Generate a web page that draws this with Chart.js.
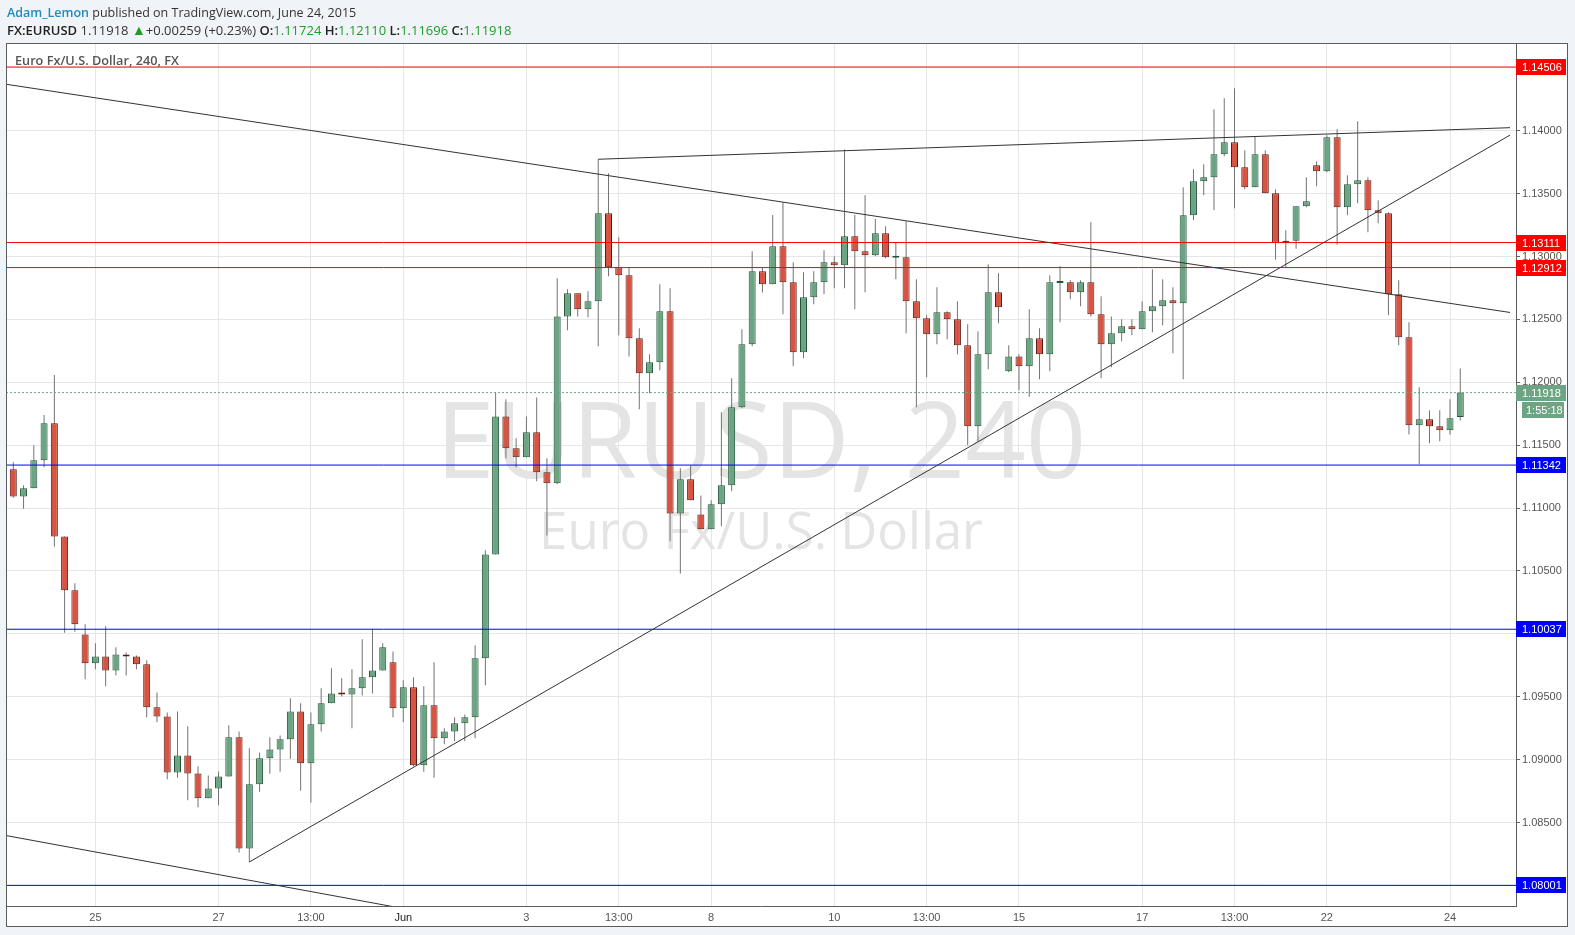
<!doctype html>

<html lang="en">
<head>
	<meta charset="utf-8">
	<title>EURUSD, 240</title>
	<style>
		body { margin: 0; background: #f0f3f7; font-family: "Open Sans", "Liberation Sans", sans-serif; }
		#wrap { position: relative; width: 1575px; height: 935px; }
		#myChart { position: absolute; left: 0; top: 0; }
		.hdr { position: absolute; left: 7px; font-size: 13px; line-height: 16px; color: #333; white-space: nowrap; }
		.hdr b { font-weight: 600; color: #222; }
		.g { color: #1c9e25; }
		.user { color: #1e8bc3; font-weight: 600; }
		#panelTitle { position: absolute; left: 15px; top: 52px; font-size: 12.7px; line-height: 16px; font-weight: 600; color: #555; }
	</style>
</head>

<body>
	<div id="wrap">
		<canvas id="myChart" width="1575" height="935"></canvas>
		<div class="hdr" style="top:5px; font-size:12.5px"><span class="user">Adam_Lemon</span> published on TradingView.com, June 24, 2015</div>
		<div class="hdr" style="top:22px"><b>FX:EURUSD</b> 1.11918 <span class="g" style="font-size:14px">&#9650;</span>+0.00259 (+0.23%) <b>O:</b><span class="g">1.11724</span> <b>H:</b><span class="g">1.12110</span> <b>L:</b><span class="g">1.11696</span> <b>C:</b><span class="g">1.11918</span></div>
		<div id="panelTitle">Euro Fx/U.S. Dollar, 240, FX</div>
	</div>

	<script src="https://cdn.jsdelivr.net/npm/chart.js@4.4.0/dist/chart.umd.min.js"></script>

	<script>
		// 4h candles, index 0 = first bar on the left
		var opens = [
			1.11308, 1.11093, 1.11157, 1.11380, 1.11674, 1.10775, 1.10346, 1.09996, 1.09766, 1.09821,
			1.09710, 1.09837, 1.09821, 1.09758, 1.09416, 1.09344, 1.08899, 1.09034, 1.08891, 1.08693,
			1.08772, 1.08867, 1.09178, 1.08295, 1.08804, 1.09011, 1.09082, 1.09162, 1.09384, 1.08971,
			1.09281, 1.09448, 1.09527, 1.09519, 1.09567, 1.09655, 1.09710, 1.09774, 1.09408, 1.09575,
			1.08955, 1.09432, 1.09170, 1.09225, 1.09289, 1.09337, 1.09806, 1.10632, 1.11729, 1.11475,
			1.11404, 1.11602, 1.11284, 1.11197, 1.12524, 1.12707, 1.12580, 1.12644, 1.13343, 1.12914,
			1.12850, 1.12350, 1.12071, 1.12159, 1.12564, 1.10958, 1.11229, 1.10950, 1.10831, 1.11030,
			1.11181, 1.11801, 1.12302, 1.12882, 1.12779, 1.13081, 1.12795, 1.12238, 1.12676, 1.12795,
			1.12954, 1.12930, 1.13160, 1.13041, 1.13009, 1.13184, 1.12990, 1.12994, 1.12644, 1.12509,
			1.12381, 1.12556, 1.12501, 1.12294, 1.11650, 1.12222, 1.12715, 1.12087, 1.12206, 1.12127,
			1.12350, 1.12222, 1.12790, 1.12795, 1.12715, 1.12795, 1.12540, 1.12302, 1.12389, 1.12445,
			1.12421, 1.12564, 1.12604, 1.12652, 1.12628, 1.13327, 1.13598, 1.13630, 1.13812, 1.13908,
			1.13709, 1.13550, 1.13812, 1.13502, 1.13110, 1.13126, 1.13399, 1.13725, 1.13677, 1.13947,
			1.13391, 1.13574, 1.13606, 1.13367, 1.13343, 1.12699, 1.12358, 1.11658, 1.11706, 1.11650,
			1.11618, 1.11724
		];
		var highs = [
			1.11364, 1.11181, 1.11499, 1.11740, 1.12058, 1.10775, 1.10402, 1.10076, 1.09925, 1.10060,
			1.09893, 1.09853, 1.09829, 1.09790, 1.09535, 1.09376, 1.09384, 1.09265, 1.08947, 1.08875,
			1.08907, 1.09273, 1.09225, 1.09090, 1.09058, 1.09178, 1.09193, 1.09488, 1.09448, 1.09376,
			1.09567, 1.09726, 1.09647, 1.09718, 1.09957, 1.10036, 1.09925, 1.09861, 1.09631, 1.09655,
			1.09583, 1.09774, 1.09249, 1.09337, 1.09360, 1.09909, 1.10664, 1.11920, 1.11865, 1.11555,
			1.11729, 1.11880, 1.11396, 1.12827, 1.12739, 1.12707, 1.12723, 1.13773, 1.13661, 1.13153,
			1.12914, 1.12429, 1.12222, 1.12779, 1.12747, 1.11316, 1.11340, 1.11101, 1.11062, 1.11761,
			1.12032, 1.12421, 1.13041, 1.12914, 1.13330, 1.13431, 1.12954, 1.12874, 1.12882, 1.13049,
			1.13001, 1.13851, 1.13330, 1.13486, 1.13298, 1.13240, 1.13113, 1.13280, 1.12819, 1.12532,
			1.12755, 1.12564, 1.12644, 1.12461, 1.12405, 1.12938, 1.12866, 1.12294, 1.12222, 1.12580,
			1.12429, 1.12850, 1.12922, 1.12811, 1.12811, 1.13272, 1.12683, 1.12524, 1.12501, 1.12501,
			1.12644, 1.12898, 1.12819, 1.12755, 1.13550, 1.13693, 1.13733, 1.14170, 1.14258, 1.14337,
			1.13844, 1.13955, 1.13844, 1.13534, 1.13208, 1.13399, 1.13630, 1.13757, 1.13963, 1.14011,
			1.13645, 1.14075, 1.13630, 1.13447, 1.13351, 1.12811, 1.12477, 1.11960, 1.11777, 1.11777,
			1.11865, 1.12110
		];
		var lows = [
			1.11083, 1.10995, 1.11157, 1.11324, 1.10693, 1.10010, 1.10018, 1.09639, 1.09718, 1.09583,
			1.09670, 1.09670, 1.09718, 1.09337, 1.09297, 1.08844, 1.08857, 1.08677, 1.08621, 1.08693,
			1.08637, 1.08867, 1.08263, 1.08187, 1.08746, 1.08889, 1.08905, 1.09008, 1.08754, 1.08658,
			1.09225, 1.09448, 1.09503, 1.09249, 1.09511, 1.09527, 1.09710, 1.09337, 1.09297, 1.08947,
			1.08905, 1.08857, 1.09122, 1.09146, 1.09146, 1.09170, 1.09591, 1.10632, 1.11396, 1.11324,
			1.11404, 1.11213, 1.10783, 1.11189, 1.12413, 1.12524, 1.12517, 1.12286, 1.12842, 1.12373,
			1.12206, 1.11785, 1.11912, 1.12095, 1.10736, 1.10481, 1.11062, 1.10831, 1.10831, 1.10855,
			1.11133, 1.11793, 1.12286, 1.12713, 1.12779, 1.12540, 1.12127, 1.12191, 1.12620, 1.12699,
			1.12747, 1.12747, 1.12580, 1.12715, 1.13001, 1.12986, 1.12819, 1.12389, 1.11801, 1.12040,
			1.12302, 1.12342, 1.12222, 1.11499, 1.11531, 1.12103, 1.12469, 1.12079, 1.11936, 1.11886,
			1.12024, 1.12087, 1.12477, 1.12660, 1.12604, 1.12524, 1.12032, 1.12119, 1.12326, 1.12373,
			1.12421, 1.12397, 1.12453, 1.12230, 1.12024, 1.13288, 1.13486, 1.13367, 1.13796, 1.13383,
			1.13534, 1.13550, 1.13502, 1.12975, 1.12911, 1.13062, 1.13391, 1.13558, 1.13669, 1.13094,
			1.13327, 1.13423, 1.13192, 1.13264, 1.12532, 1.12294, 1.11586, 1.11348, 1.11515, 1.11531,
			1.11586, 1.11696
		];
		var closes = [
			1.11093, 1.11157, 1.11380, 1.11674, 1.10775, 1.10346, 1.10076, 1.09766, 1.09821, 1.09710,
			1.09837, 1.09821, 1.09758, 1.09416, 1.09344, 1.08899, 1.09034, 1.08891, 1.08693, 1.08772,
			1.08867, 1.09178, 1.08295, 1.08804, 1.09011, 1.09082, 1.09162, 1.09384, 1.08971, 1.09281,
			1.09448, 1.09527, 1.09519, 1.09567, 1.09655, 1.09710, 1.09893, 1.09408, 1.09575, 1.08955,
			1.09432, 1.09170, 1.09225, 1.09289, 1.09337, 1.09806, 1.10632, 1.11729, 1.11475, 1.11404,
			1.11602, 1.11284, 1.11197, 1.12524, 1.12707, 1.12580, 1.12644, 1.13343, 1.12914, 1.12850,
			1.12350, 1.12071, 1.12159, 1.12564, 1.10958, 1.11229, 1.11062, 1.10831, 1.11030, 1.11181,
			1.11801, 1.12302, 1.12882, 1.12779, 1.13081, 1.12795, 1.12238, 1.12676, 1.12795, 1.12954,
			1.12930, 1.13160, 1.13041, 1.13009, 1.13184, 1.12994, 1.12998, 1.12644, 1.12509, 1.12381,
			1.12556, 1.12501, 1.12294, 1.11650, 1.12222, 1.12715, 1.12596, 1.12206, 1.12127, 1.12350,
			1.12222, 1.12795, 1.12800, 1.12715, 1.12795, 1.12540, 1.12302, 1.12389, 1.12445, 1.12421,
			1.12564, 1.12604, 1.12652, 1.12628, 1.13327, 1.13598, 1.13630, 1.13812, 1.13908, 1.13709,
			1.13550, 1.13812, 1.13502, 1.13110, 1.13126, 1.13399, 1.13439, 1.13677, 1.13947, 1.13391,
			1.13574, 1.13606, 1.13367, 1.13343, 1.12699, 1.12358, 1.11658, 1.11706, 1.11650, 1.11618,
			1.11714, 1.11918
		];

		var tickIndex = [8, 20, 29, 38, 50, 59, 68, 80, 89, 98, 110, 119, 128, 140];
		var tickLabels = ["25", "27", "13:00", "Jun", "3", "13:00", "8", "10", "13:00", "15", "17", "13:00", "22", "24"];
		var priceTicks = [1.080, 1.085, 1.090, 1.095, 1.100, 1.105, 1.110, 1.115, 1.120, 1.125, 1.130, 1.135, 1.140, 1.145];

		var levels = [1.14506, 1.13111, 1.12912, 1.11342, 1.10037, 1.08001];
		var levelColors = ["#ff0000", "#ff0000", "#ff0000", "#0000ff", "#0000ff", "#0000ff"];
		var lastPrice = 1.11918;
		var countdown = "1:55:18";

		// hand drawn trend lines: [bar index, price] at each end
		var trendLines = [
			[[-0.61, 1.14368], [145.85, 1.12555]],
			[[57, 1.13773], [145.85, 1.14024]],
			[[23, 1.08187], [145.85, 1.13965]],
			[[-0.64, 1.08396], [40, 1.07787]]
		];

		var xMin = -0.711, xMax = 146.43;
		var yMin = 1.07837, yMax = 1.146971;

		var bodies = [], wicks = [], bodyFill = [], bodyLine = [];
		for (var i = 0; i < opens.length; i++) {
			bodies.push({x: i, y: [opens[i], closes[i]]});
			wicks.push({x: i, y: [lows[i], highs[i]]});
			var up = closes[i] >= opens[i];
			bodyFill.push(up ? "#6ba583" : "#d75442");
			bodyLine.push(up ? "#225437" : "#5b1a13");
		}

		var datasets = [
			{ type: 'bar', data: wicks, backgroundColor: "#737375", borderWidth: 0, barThickness: 1, grouped: false, inflateAmount: 0, order: 3 },
			{ type: 'bar', data: bodies, backgroundColor: bodyFill, borderColor: bodyLine, borderWidth: 1, borderSkipped: false,
			  barThickness: 7, minBarLength: 2, grouped: false, inflateAmount: 0, order: 2 }
		];

		for (var k = 0; k < levels.length; k++) {
			datasets.push({ type: 'line', data: [{x: xMin, y: levels[k]}, {x: xMax, y: levels[k]}],
				borderColor: levelColors[k], borderWidth: 1, pointRadius: 0, clip: 0, order: 1 });
		}
		datasets.push({ type: 'line', data: [{x: xMin, y: lastPrice}, {x: xMax, y: lastPrice}],
			borderColor: "#6ba583", borderWidth: 1, borderDash: [2, 2], pointRadius: 0, clip: 0, order: 1 });

		trendLines.forEach(function(t) {
			datasets.push({ type: 'line', data: [{x: t[0][0], y: t[0][1]}, {x: t[1][0], y: t[1][1]}],
				borderColor: "#333333", borderWidth: 1, pointRadius: 0, clip: 0, order: 0 });
		});

		var panelPlugin = {
			id: 'panel',
			beforeDraw: function(chart) {
				var c = chart.ctx, a = chart.chartArea;
				c.save();
				c.fillStyle = "#ffffff";
				c.fillRect(a.left, a.top, chart.scales.y.right - a.left, chart.scales.x.bottom - a.top);
				c.restore();
			},
			beforeDatasetsDraw: function(chart) {
				var c = chart.ctx, a = chart.chartArea;
				var cx = (a.left + a.right) / 2;
				c.save();
				c.fillStyle = "#e4e4e4";
				c.textAlign = "center";
				c.textBaseline = "alphabetic";
				c.font = '106px "Open Sans", sans-serif';
				c.fillText("EURUSD, 240", cx, 478);
				c.font = '51px "Open Sans", sans-serif';
				c.fillText("Euro Fx/U.S. Dollar", cx, 549);
				c.restore();
			},
			afterDraw: function(chart) {
				var c = chart.ctx, a = chart.chartArea, ys = chart.scales.y;
				c.save();
				c.strokeStyle = "#5c5c5c";
				c.lineWidth = 1;
				c.strokeRect(a.left + 0.5, a.top + 0.5, ys.right - a.left - 1, chart.scales.x.bottom - a.top - 1);

				c.font = '11px "Liberation Sans", Arial, sans-serif';
				c.textBaseline = "middle";
				function box(v, text, color, x0, w, dy) {
					var y = Math.round(ys.getPixelForValue(v)) + dy;
					c.fillStyle = color;
					c.fillRect(x0, y - 8, w, 16);
					c.fillStyle = "#ffffff";
					c.fillText(text, x0 + (w > 45 ? 6 : 4), y + 1);
				}
				for (var k = 0; k < levels.length; k++) {
					box(levels[k], levels[k].toFixed(5), levelColors[k], ys.left, 50, 0);
				}
				box(lastPrice, lastPrice.toFixed(5), "#6ba583", ys.left, 50, 0);
				box(lastPrice, countdown, "#6ba583", ys.left + 6, 42, 17);
				c.restore();
			}
		};

		Chart.defaults.font.family = '"Liberation Sans", Arial, sans-serif';

		var ctx = document.getElementById("myChart");
		var myChart = new Chart(ctx, {
			type: 'bar',
			data: { datasets: datasets },
			plugins: [panelPlugin],
			options: {
				responsive: false,
				animation: false,
				devicePixelRatio: 1,
				layout: { padding: { left: 6, top: 43, right: 7, bottom: 8 } },
				plugins: { legend: { display: false }, tooltip: { enabled: false } },
				scales: {
					x: {
						type: 'linear', min: xMin, max: xMax, offset: false,
						afterBuildTicks: function(s) { s.ticks = tickIndex.map(function(v) { return {value: v}; }); },
						afterFit: function(s) { s.height = 21; },
						ticks: {
							autoSkip: false, maxRotation: 0, padding: 5,
							font: { size: 11 },
							color: function(c) { return c.tick && c.tick.label === "Jun" ? "#222" : "#555"; },
							callback: function(v) { return tickLabels[tickIndex.indexOf(v)]; }
						},
						grid: { color: "#e6e6e6", drawTicks: false, offset: false },
						border: { color: "#5c5c5c" }
					},
					y: {
						type: 'linear', position: 'right', min: yMin, max: yMax,
						afterBuildTicks: function(s) { s.ticks = priceTicks.map(function(v) { return {value: v}; }); },
						afterFit: function(s) { s.width = 52; },
						ticks: {
							autoSkip: false, padding: 2, color: "#555",
							font: { size: 11 },
							callback: function(v) { return v.toFixed(5); }
						},
						grid: { color: "#e6e6e6", tickLength: 4, tickColor: "#666", offset: false },
						border: { color: "#5c5c5c" }
					}
				}
			}
		});
	</script>
</body>
</html>
